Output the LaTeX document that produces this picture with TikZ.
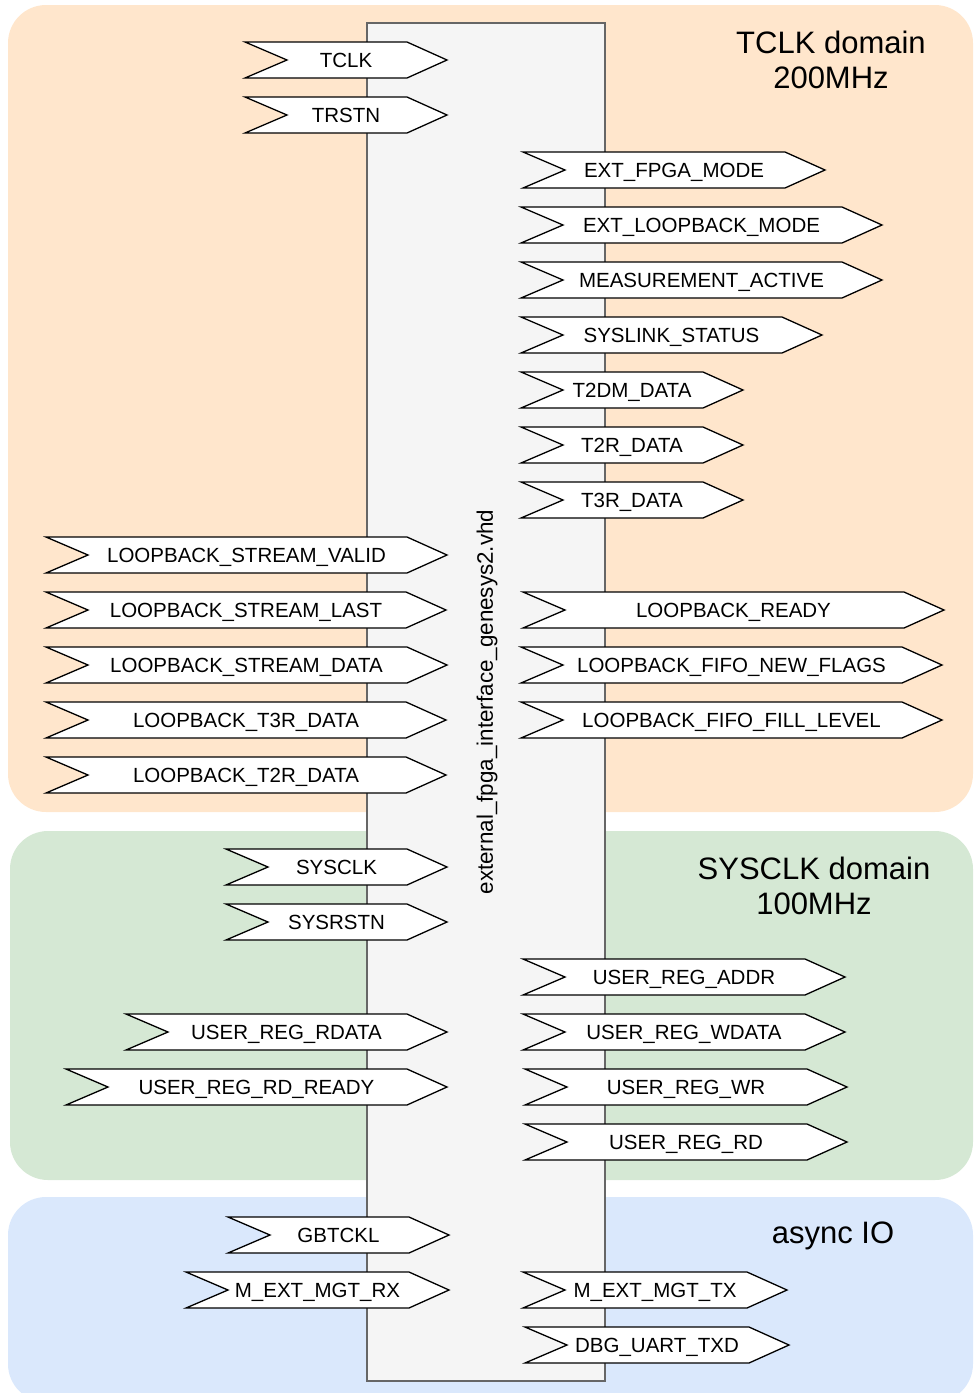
\documentclass[tikz,border=0pt]{standalone}
\usepackage{fontspec}
\setmainfont{Liberation Sans}
\definecolor{peach}{HTML}{FFE6CC}
\definecolor{mint}{HTML}{D5E8D4}
\definecolor{sky}{HTML}{DAE8FC}
\definecolor{boxgray}{HTML}{F5F5F5}
\definecolor{boxline}{HTML}{666666}
\tikzset{
  sigshape/.style={draw=black, fill=white, line width=1.3pt, line join=miter},
  sigtext/.style={inner sep=0pt, anchor=base, font=\fontsize{20.5}{24}\selectfont},
  domaintext/.style={align=center, inner sep=0pt, font=\fontsize{31}{35}\selectfont},
  region/.style={rounded corners=38pt},
}
\newcommand\sig[5]{%
  \draw[sigshape] ({#3},{#2-18}) -- ({#4-40},{#2-18}) -- ({#4},{#2}) -- ({#4-40},{#2+18}) -- ({#3},{#2+18}) -- ({#3+42},{#2}) -- cycle;
  \node[sigtext] (#1) at ({(#3+#4)/2},{#2+7.5}) {#5};
}
\begin{document}
\begin{tikzpicture}[x=1pt,y=-1pt]
\useasboundingbox (0,0) rectangle (974,1393);
% domains
\fill[peach, region] (8,5) rectangle (973,812);
\fill[mint, region] (10,831) rectangle (973,1180);
\fill[sky, region] (8,1197) rectangle (973,1402);
\node[domaintext] (tclkdom) at (831,60) {TCLK domain\\200MHz};
\node[domaintext] (sysdom) at (814,886) {SYSCLK domain\\100MHz};
\node[domaintext] (asyncdom) at (833,1236) {async IO};
% entity box
\draw[fill=boxgray, draw=boxline, line width=1.3pt] (367,23) rectangle (605,1381);
\node[rotate=90, inner sep=0pt, font=\fontsize{22.4}{26}\selectfont] (entity) at (487,702) {external\_fpga\_interface\_genesys2.vhd};
% left side signals
\sig{tclk}{60}{245}{447}{TCLK}
\sig{trstn}{115}{245}{447}{TRSTN}
\sig{lsv}{555}{46}{447}{LOOPBACK\_STREAM\_VALID}
\sig{lsl}{610}{46}{446}{LOOPBACK\_STREAM\_LAST}
\sig{lsd}{665}{46}{447}{LOOPBACK\_STREAM\_DATA}
\sig{lt3}{720}{46}{446}{LOOPBACK\_T3R\_DATA}
\sig{lt2}{775}{46}{446}{LOOPBACK\_T2R\_DATA}
\sig{sysclk}{867}{226}{447}{SYSCLK}
\sig{sysrstn}{922}{226}{447}{SYSRSTN}
\sig{urrdata}{1032}{126}{447}{USER\_REG\_RDATA}
\sig{urrdready}{1087}{66}{447}{USER\_REG\_RD\_READY}
\sig{gbtckl}{1235}{228}{449}{GBTCKL}
\sig{mgtrx}{1290}{186}{449}{M\_EXT\_MGT\_RX}
% right side signals
\sig{extfpga}{170}{523}{825}{EXT\_FPGA\_MODE}
\sig{extloop}{225}{521}{882}{EXT\_LOOPBACK\_MODE}
\sig{meas}{280}{521}{882}{MEASUREMENT\_ACTIVE}
\sig{syslink}{335}{521}{822}{SYSLINK\_STATUS}
\sig{ttdm}{390}{521}{743}{T2DM\_DATA}
\sig{ttr}{445}{521}{743}{T2R\_DATA}
\sig{tthr}{500}{521}{743}{T3R\_DATA}
\sig{lready}{610}{523}{944}{LOOPBACK\_READY}
\sig{lfifoflags}{665}{521}{942}{LOOPBACK\_FIFO\_NEW\_FLAGS}
\sig{lfifofill}{720}{521}{942}{LOOPBACK\_FIFO\_FILL\_LEVEL}
\sig{uraddr}{977}{523}{845}{USER\_REG\_ADDR}
\sig{urwdata}{1032}{523}{845}{USER\_REG\_WDATA}
\sig{urwr}{1087}{525}{847}{USER\_REG\_WR}
\sig{urrd}{1142}{525}{847}{USER\_REG\_RD}
\sig{mgttx}{1290}{523}{787}{M\_EXT\_MGT\_TX}
\sig{uart}{1345}{525}{789}{DBG\_UART\_TXD}
\end{tikzpicture}
\end{document}
